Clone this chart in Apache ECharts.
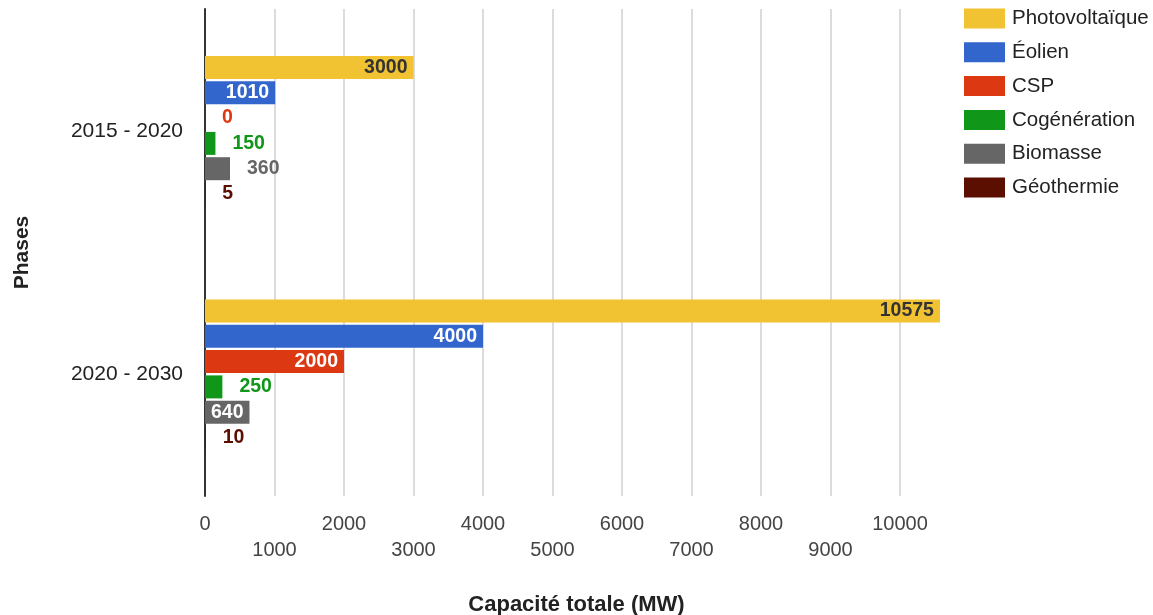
<!DOCTYPE html>
<html>
<head>
<meta charset="utf-8">
<script src="https://cdn.jsdelivr.net/npm/echarts@6/dist/echarts.min.js"></script>
<style>
html, body { margin: 0; padding: 0; background: #fff; }
#chart { width: 1153px; height: 615px; }
</style>
</head>
<body>
<div id="chart"></div>
<script>
var categories = ['2015 - 2020', '2020 - 2030'];
var seriesNames = ['Photovoltaïque', 'Éolien', 'CSP', 'Cogénération', 'Biomasse', 'Géothermie'];
var photovoltaique = [3000, 10575];
var eolien = [1010, 4000];
var csp = [0, 2000];
var cogeneration = [150, 250];
var biomasse = [360, 640];
var geothermie = [5, 10];
var xTicks = [0, 1000, 2000, 3000, 4000, 5000, 6000, 7000, 8000, 9000, 10000];

var myChart = echarts.init(document.getElementById('chart'));

var colors = ['#f1c232', '#3366cc', '#dc3912', '#109618', '#666666', '#5b0f00'];
var insideColors = ['#333333', '#ffffff', '#ffffff', '#ffffff', '#ffffff', '#ffffff'];
var allValues = [photovoltaique, eolien, csp, cogeneration, biomasse, geothermie];

// px per unit on the value axis (grid 205 -> 900 for 0 -> 10000)
var pxPerUnit = 695 / 10000;

function buildSeries(i) {
    return {
        name: seriesNames[i],
        type: 'bar',
        clip: false,
        barWidth: 23,
        barGap: '10%',
        itemStyle: { color: colors[i] },
        data: allValues[i].map(function(v) {
            var fits = v * pxPerUnit > String(v).length * 11 + 10;
            return {
                value: v,
                label: {
                    show: true,
                    position: fits ? 'insideRight' : 'right',
                    distance: fits ? 6 : 17,
                    color: fits ? insideColors[i] : colors[i],
                    fontFamily: 'Liberation Sans, Arial, sans-serif',
                    fontWeight: 'bold',
                    fontSize: 19.5
                }
            };
        })
    };
}

myChart.setOption({
    animation: false,
    color: colors,
    textStyle: { fontFamily: 'Liberation Sans, Arial, sans-serif' },
    title: {
        text: 'Capacité totale (MW)',
        left: 'center',
        top: 594,
        padding: 0,
        textStyle: {
            fontSize: 22,
            fontWeight: 'bold',
            color: '#222',
            fontFamily: 'Liberation Sans, Arial, sans-serif'
        }
    },
    legend: {
        orient: 'vertical',
        left: 964,
        top: 8,
        padding: 0,
        itemWidth: 41,
        itemHeight: 20,
        itemGap: 12.8,
        icon: 'rect',
        data: seriesNames,
        textStyle: {
            fontSize: 20.5,
            lineHeight: 20,
            color: '#222',
            padding: [0, 0, 0, 2]
        }
    },
    grid: {
        left: 205,
        right: 253,
        top: 9,
        bottom: 119,
        containLabel: false
    },
    xAxis: {
        type: 'value',
        min: xTicks[0],
        max: xTicks[xTicks.length - 1],
        interval: 1000,
        axisLine: { show: false },
        axisTick: { show: false },
        splitLine: { lineStyle: { color: '#d0d0d0', width: 1.5 } },
        axisLabel: {
            fontSize: 20,
            color: '#444',
            lineHeight: 26,
            margin: 15,
            formatter: function(value) {
                var idx = xTicks.indexOf(value);
                return idx % 2 === 1 ? '\n' + value : String(value);
            }
        }
    },
    yAxis: {
        type: 'category',
        inverse: true,
        data: categories,
        name: 'Phases',
        nameLocation: 'middle',
        nameGap: 172,
        nameTextStyle: {
            fontSize: 21,
            fontWeight: 'bold',
            color: '#222'
        },
        axisLine: { lineStyle: { color: '#333', width: 2 } },
        axisTick: { show: false },
        splitLine: { show: false },
        axisLabel: {
            fontSize: 21,
            color: '#222',
            margin: 22,
            padding: [4, 0, 0, 0]
        }
    },
    series: [0, 1, 2, 3, 4, 5].map(buildSeries)
});
</script>
</body>
</html>
